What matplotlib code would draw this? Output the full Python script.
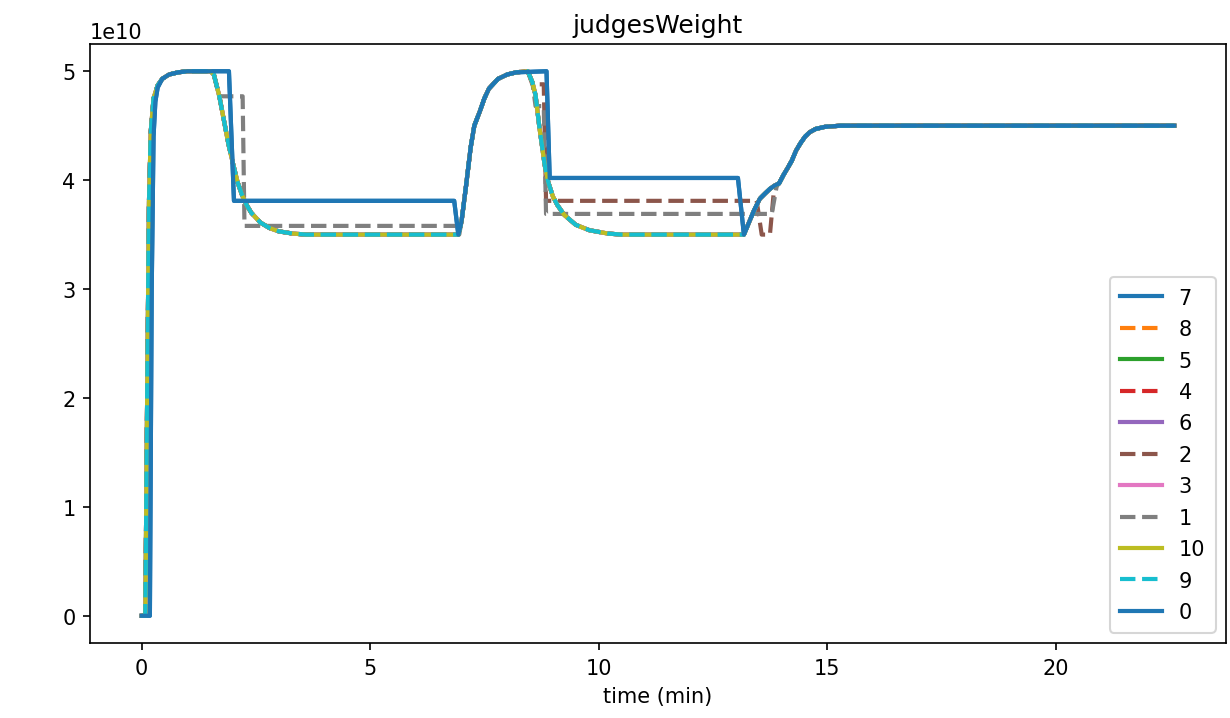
import matplotlib
matplotlib.use("Agg")
import matplotlib.pyplot as plt

# shared (smooth) trajectory followed by most judges
base_t = [0.0, 0.08, 0.12, 0.16, 0.2, 0.26, 0.35, 0.45, 0.6, 0.8, 1.0, 1.5, 1.58,
          1.7, 1.8, 1.9, 2.0, 2.1, 2.2, 2.3, 2.4, 2.6, 2.8, 3.0, 3.3, 3.6, 6.93,
          7.0, 7.1, 7.2, 7.28, 7.4, 7.5, 7.6, 7.8, 8.0, 8.2, 8.45, 8.55, 8.62,
          8.7, 8.82, 8.9, 9.0, 9.1, 9.25, 9.5, 9.8, 10.2, 10.5, 13.18, 13.3,
          13.4, 13.53, 13.65, 13.75, 13.85, 13.95, 14.05, 14.15, 14.23, 14.32,
          14.42, 14.52, 14.62, 14.75, 14.96, 15.3, 15.7, 22.6]
base_v = [0.0, 0.0, 2.0, 3.8, 4.45, 4.75, 4.87, 4.93, 4.97, 4.99, 5.0, 5.0, 4.97,
          4.77, 4.55, 4.33, 4.15, 3.98, 3.86, 3.77, 3.70, 3.61, 3.56, 3.53, 3.51,
          3.5, 3.5,
          3.62, 3.95, 4.3, 4.5, 4.63, 4.75, 4.84, 4.93, 4.97, 4.99, 5.0, 4.9,
          4.78, 4.5, 4.14, 3.98, 3.85, 3.77, 3.68, 3.59, 3.54, 3.51, 3.5, 3.5,
          3.62, 3.72, 3.83, 3.88, 3.92, 3.95, 3.97, 4.05, 4.12, 4.18, 4.27,
          4.34, 4.40, 4.44, 4.47, 4.49, 4.5, 4.5, 4.5]

# judges 0 and 7 (blue solid)
blue_t = [0.0, 0.18, 0.22, 0.26, 0.3, 0.35, 0.45, 0.6, 0.8, 1.0, 1.91, 2.02, 6.84,
          6.93, 7.0, 7.1, 7.2, 7.28, 7.4, 7.5, 7.6, 7.8, 8.0, 8.2, 8.86, 8.93,
          13.05, 13.18, 13.3, 13.4, 13.53, 13.65, 13.75, 13.85, 13.95, 14.05,
          14.15, 14.23, 14.32, 14.42, 14.52, 14.62, 14.75, 14.96, 15.3, 15.7, 22.6]
blue_v = [0.0, 0.0, 3.0, 4.4, 4.72, 4.85, 4.93, 4.97, 4.99, 5.0, 5.0, 3.81, 3.81,
          3.5, 3.62, 3.95, 4.3, 4.5, 4.63, 4.75, 4.84, 4.93, 4.97, 4.99, 5.0,
          4.02, 4.02, 3.5, 3.62, 3.72, 3.83, 3.88, 3.92, 3.95, 3.97, 4.05,
          4.12, 4.18, 4.27, 4.34, 4.40, 4.44, 4.47, 4.49, 4.5, 4.5, 4.5]

# judge 1 (grey dashed)
grey_t = [0.0, 0.08, 0.12, 0.16, 0.2, 0.26, 0.35, 0.45, 0.6, 0.8, 1.0, 1.5, 1.58,
          1.7, 2.21, 2.25, 6.9, 6.95, 7.0, 7.1, 7.2, 7.28, 7.4, 7.5, 7.6, 7.8,
          8.0, 8.2, 8.45, 8.55, 8.62, 8.8, 8.85, 13.79, 13.9, 13.95, 14.05,
          14.15, 14.23, 14.32, 14.42, 14.52, 14.62, 14.75, 14.96, 15.3, 15.7, 22.6]
grey_v = [0.0, 0.0, 2.0, 3.8, 4.45, 4.75, 4.87, 4.93, 4.97, 4.99, 5.0, 5.0, 4.97,
          4.77, 4.77, 3.58, 3.58, 3.5, 3.62, 3.95, 4.3, 4.5, 4.63, 4.75, 4.84,
          4.93, 4.97, 4.99, 5.0, 4.9, 4.68, 4.68, 3.69, 3.69, 3.95, 3.97, 4.05,
          4.12, 4.18, 4.27, 4.34, 4.40, 4.44, 4.47, 4.49, 4.5, 4.5, 4.5]

# judge 2 (brown dashed)
brown_t = [0.0, 0.08, 0.12, 0.16, 0.2, 0.26, 0.35, 0.45, 0.6, 0.8, 1.0, 1.5, 1.58,
           1.7, 1.8, 1.9, 2.0, 2.1, 2.2, 2.3, 2.4, 2.6, 2.8, 3.0, 3.3, 3.6, 6.93,
           7.0, 7.1, 7.2, 7.28, 7.4, 7.5, 7.6, 7.8, 8.0, 8.2, 8.45, 8.55, 8.8,
           8.85, 13.46, 13.57, 13.75, 13.84, 13.95, 14.05, 14.15, 14.23, 14.32,
           14.42, 14.52, 14.62, 14.75, 14.96, 15.3, 15.7, 22.6]
brown_v = [0.0, 0.0, 2.0, 3.8, 4.45, 4.75, 4.87, 4.93, 4.97, 4.99, 5.0, 5.0, 4.97,
           4.77, 4.55, 4.33, 4.15, 3.98, 3.86, 3.77, 3.70, 3.61, 3.56, 3.53, 3.51,
           3.5, 3.5, 3.62, 3.95, 4.3, 4.5, 4.63, 4.75, 4.84, 4.93, 4.97, 4.99,
           5.0, 4.88, 4.88, 3.81, 3.81, 3.5, 3.5, 3.92, 3.97, 4.05, 4.12, 4.18,
           4.27, 4.34, 4.40, 4.44, 4.47, 4.49, 4.5, 4.5, 4.5]

SCALE = 1e10

series = [
    ("7", blue_t, blue_v, "C0", "-"),
    ("8", base_t, base_v, "C1", "--"),
    ("5", base_t, base_v, "C2", "-"),
    ("4", base_t, base_v, "C3", "--"),
    ("6", base_t, base_v, "C4", "-"),
    ("2", brown_t, brown_v, "C5", "--"),
    ("3", base_t, base_v, "C6", "-"),
    ("1", grey_t, grey_v, "C7", "--"),
    ("10", base_t, base_v, "C8", "-"),
    ("9", base_t, base_v, "C9", "--"),
    ("0", blue_t, blue_v, "C0", "-"),
]

fig, ax = plt.subplots(figsize=(8.2, 4.7933), dpi=150)
for name, t, v, c, ls in series:
    ax.plot(t, [x * SCALE for x in v], color=c, linestyle=ls, linewidth=2, label=name)

ax.set_title("judgesWeight")
ax.set_xlabel("time (min)")
ax.legend(loc="lower right", labelspacing=0.55, borderpad=0.5)
fig.subplots_adjust(left=0.0732, right=0.9967, top=0.9374, bottom=0.1043)
fig.savefig("out.png")
